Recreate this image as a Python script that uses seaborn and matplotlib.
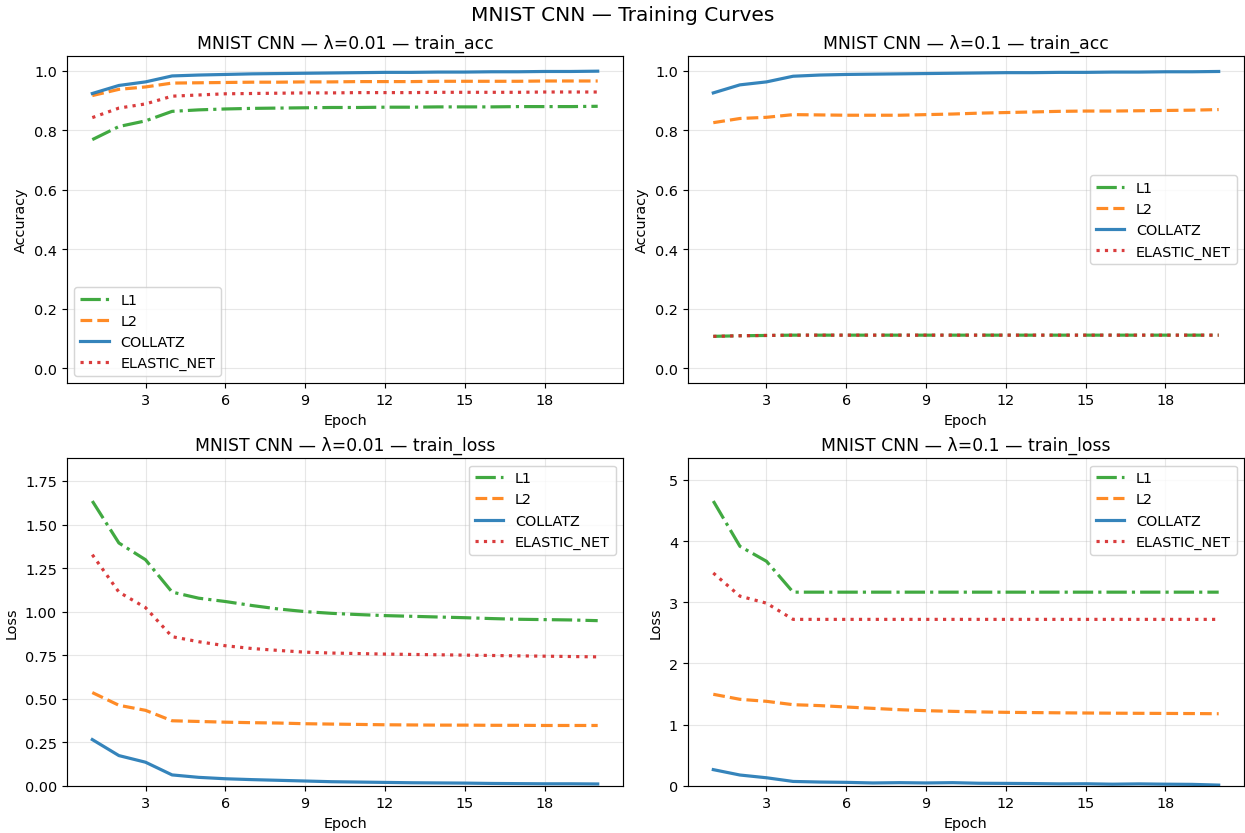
import numpy as np
import pandas as pd
import seaborn as sns
import matplotlib
matplotlib.use("Agg")
import matplotlib.pyplot as plt

epochs = list(range(1, 21))
methods = ["L1", "L2", "COLLATZ", "ELASTIC_NET"]

# lambda = 0.01
acc_001_l1 = [0.769, 0.813, 0.832, 0.864, 0.869, 0.872, 0.874, 0.875, 0.876, 0.877,
              0.877, 0.878, 0.878, 0.879, 0.879, 0.879, 0.880, 0.880, 0.880, 0.881]
acc_001_l2 = [0.917, 0.938, 0.946, 0.959, 0.960, 0.961, 0.962, 0.962, 0.963, 0.963,
              0.964, 0.964, 0.964, 0.965, 0.965, 0.965, 0.965, 0.966, 0.966, 0.966]
acc_001_collatz = [0.924, 0.951, 0.963, 0.983, 0.986, 0.988, 0.990, 0.991, 0.992, 0.993,
                   0.994, 0.995, 0.995, 0.996, 0.996, 0.997, 0.997, 0.998, 0.998, 0.999]
acc_001_elastic = [0.843, 0.875, 0.889, 0.915, 0.919, 0.923, 0.924, 0.925, 0.926, 0.926,
                   0.927, 0.927, 0.927, 0.928, 0.928, 0.928, 0.928, 0.929, 0.929, 0.929]

loss_001_l1 = [1.635, 1.394, 1.298, 1.112, 1.077, 1.058, 1.035, 1.015, 1.000, 0.990,
               0.983, 0.977, 0.973, 0.969, 0.965, 0.960, 0.956, 0.954, 0.952, 0.948]
loss_001_l2 = [0.535, 0.462, 0.433, 0.373, 0.369, 0.365, 0.362, 0.360, 0.356, 0.354,
               0.352, 0.350, 0.349, 0.348, 0.348, 0.347, 0.347, 0.346, 0.346, 0.346]
loss_001_collatz = [0.265, 0.173, 0.135, 0.062, 0.048, 0.040, 0.035, 0.031, 0.027, 0.023,
                    0.021, 0.019, 0.017, 0.016, 0.015, 0.013, 0.012, 0.011, 0.011, 0.010]
loss_001_elastic = [1.327, 1.112, 1.023, 0.856, 0.827, 0.804, 0.788, 0.777, 0.767, 0.762,
                    0.759, 0.756, 0.754, 0.752, 0.750, 0.748, 0.746, 0.744, 0.742, 0.740]

# lambda = 0.1
acc_01_l1 = [0.108, 0.110, 0.111, 0.112, 0.112, 0.112, 0.112, 0.112, 0.112, 0.112,
             0.112, 0.112, 0.112, 0.112, 0.112, 0.112, 0.112, 0.112, 0.112, 0.112]
acc_01_l2 = [0.826, 0.840, 0.844, 0.853, 0.852, 0.851, 0.851, 0.851, 0.853, 0.855,
             0.858, 0.860, 0.862, 0.864, 0.865, 0.865, 0.866, 0.867, 0.868, 0.870]
acc_01_collatz = [0.926, 0.953, 0.963, 0.982, 0.986, 0.988, 0.989, 0.990, 0.991, 0.992,
                  0.993, 0.994, 0.994, 0.995, 0.995, 0.996, 0.996, 0.997, 0.997, 0.998]
acc_01_elastic = acc_01_l1[:]

loss_01_l1 = [4.655, 3.915, 3.670, 3.165, 3.165, 3.165, 3.165, 3.165, 3.165, 3.165,
              3.165, 3.165, 3.165, 3.165, 3.165, 3.165, 3.165, 3.165, 3.165, 3.165]
loss_01_l2 = [1.495, 1.413, 1.380, 1.325, 1.310, 1.287, 1.265, 1.243, 1.227, 1.216,
              1.207, 1.200, 1.196, 1.192, 1.189, 1.186, 1.184, 1.182, 1.180, 1.177]
loss_01_collatz = [0.263, 0.175, 0.130, 0.070, 0.060, 0.055, 0.045, 0.050, 0.045, 0.050,
                   0.040, 0.038, 0.035, 0.030, 0.032, 0.025, 0.030, 0.025, 0.022, 0.010]
loss_01_elastic = [3.478, 3.100, 2.985, 2.720, 2.720, 2.720, 2.720, 2.720, 2.720, 2.720,
                   2.720, 2.720, 2.720, 2.720, 2.720, 2.720, 2.720, 2.720, 2.720, 2.720]

colors = {"L1": "#2ca02c", "L2": "#ff7f0e", "COLLATZ": "#1f77b4", "ELASTIC_NET": "#d62728"}
styles = {"L1": "-.", "L2": "--", "COLLATZ": "-", "ELASTIC_NET": ":"}

panels = [
    ("MNIST CNN — λ=0.01 — train_acc", "Accuracy",
     [acc_001_l1, acc_001_l2, acc_001_collatz, acc_001_elastic], "lower left", "acc"),
    ("MNIST CNN — λ=0.1 — train_acc", "Accuracy",
     [acc_01_l1, acc_01_l2, acc_01_collatz, acc_01_elastic], "center right", "acc"),
    ("MNIST CNN — λ=0.01 — train_loss", "Loss",
     [loss_001_l1, loss_001_l2, loss_001_collatz, loss_001_elastic], "upper right", "loss"),
    ("MNIST CNN — λ=0.1 — train_loss", "Loss",
     [loss_01_l1, loss_01_l2, loss_01_collatz, loss_01_elastic], "upper right", "loss"),
]

# 12x8 inch canvas, rendered a touch above 100 dpi to land on 1246x834
fig, axes = plt.subplots(2, 2, figsize=(12, 8.032), dpi=103.83)

for ax, (title, ylabel, series, loc, kind) in zip(axes.flat, panels):
    for name, vals in zip(methods, series):
        df = pd.DataFrame({"Epoch": epochs, "value": vals})
        sns.lineplot(data=df, x="Epoch", y="value", ax=ax, color=colors[name],
                     linestyle=styles[name], linewidth=2.2, alpha=0.9, label=name)
    ax.set_title(title, fontsize=12)
    ax.set_xlabel("Epoch")
    ax.set_ylabel(ylabel)
    ax.set_xticks([3, 6, 9, 12, 15, 18])
    ax.grid(True, alpha=0.3)
    if kind == "acc":
        ax.set_ylim(-0.05, 1.05)
    else:
        ax.set_ylim(0, max(max(s) for s in series) * 1.15)
    ax.legend(loc=loc, fontsize=10)

fig.suptitle("MNIST CNN — Training Curves", fontsize=14, y=0.982, va="center")
fig.subplots_adjust(left=0.0538, right=0.9984, top=0.9317, bottom=0.0567,
                    wspace=0.117, hspace=0.229)
plt.savefig("out.png", dpi=103.83)
plt.close()
